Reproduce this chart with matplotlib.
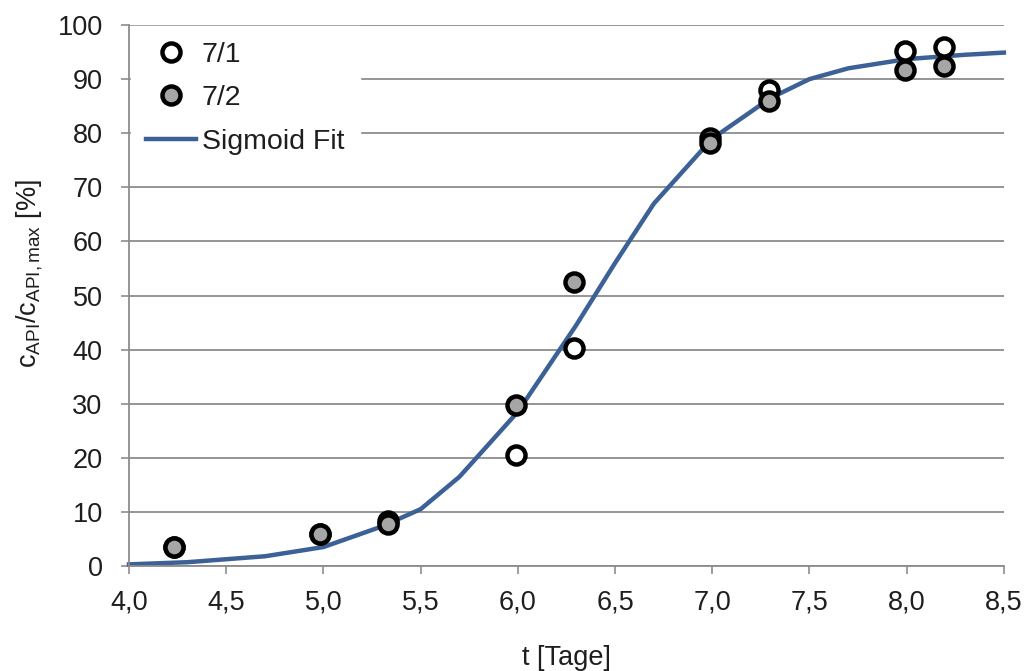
import matplotlib
matplotlib.use("Agg")
import matplotlib.pyplot as plt

# Measured series (days vs. normalised API concentration)
t_days = [4.23, 4.98, 5.33, 5.99, 6.29, 6.99, 7.29, 7.99, 8.19]
run_7_1 = [3.6, 6.0, 8.4, 20.5, 40.3, 79.1, 88.0, 95.2, 95.9]
run_7_2 = [3.6, 6.0, 7.8, 29.8, 52.5, 78.2, 86.0, 91.7, 92.4]

# Sigmoid fit curve
fit_t = [4.0, 4.3, 4.7, 5.0, 5.3, 5.5, 5.7, 6.0, 6.3, 6.5, 6.7, 7.0, 7.3, 7.5, 7.7, 8.0, 8.3, 8.5]
fit_c = [0.3, 0.7, 1.8, 3.5, 7.3, 10.5, 16.5, 28.5, 44.5, 56.0, 67.0, 79.0, 86.5, 90.0, 92.0, 93.7, 94.5, 94.9]

x_ticks = [4.0, 4.5, 5.0, 5.5, 6.0, 6.5, 7.0, 7.5, 8.0, 8.5]
x_tick_labels = ["4,0", "4,5", "5,0", "5,5", "6,0", "6,5", "7,0", "7,5", "8,0", "8,5"]
y_ticks = [0, 10, 20, 30, 40, 50, 60, 70, 80, 90, 100]

plt.rcParams["font.family"] = ["Liberation Sans", "DejaVu Sans"]
plt.rcParams["mathtext.fontset"] = "custom"
plt.rcParams["mathtext.rm"] = "Liberation Sans"
plt.rcParams["mathtext.it"] = "Liberation Sans"

FS = 19.5
text_col = "#1e1e1e"
grid_col = "#8c8c8c"

fig = plt.figure(figsize=(10.28, 6.71), dpi=100)
ax = fig.add_axes([0.1255, 0.1565, 0.851, 0.8062])

ax.set_xlim(4.0, 8.5)
ax.set_ylim(0, 100)
ax.set_yticks(y_ticks)
ax.set_xticks(x_ticks)
ax.set_xticklabels(x_tick_labels)
ax.yaxis.grid(True, color=grid_col, linewidth=1.3, zorder=0)
ax.set_axisbelow(True)

for side in ("top", "right"):
    ax.spines[side].set_visible(False)
for side in ("left", "bottom"):
    ax.spines[side].set_color(grid_col)
    ax.spines[side].set_linewidth(1.3)
    ax.spines[side].set_zorder(6)

ax.tick_params(axis="both", which="major", labelsize=FS, colors=text_col,
               length=6, width=1.2, color=grid_col)
ax.tick_params(axis="y", pad=13)
ax.tick_params(axis="x", pad=11)

ax.plot(fit_t, fit_c, color="#3b6196", linewidth=3.2, label="Sigmoid Fit", zorder=2,
        clip_on=False)
ax.plot(t_days, run_7_1, linestyle="none", marker="o", markersize=13,
        markerfacecolor="white", markeredgecolor="black", markeredgewidth=3.2,
        label="7/1", zorder=3)
ax.plot(t_days, run_7_2, linestyle="none", marker="o", markersize=13,
        markerfacecolor="#a6a6a6", markeredgecolor="black", markeredgewidth=3.2,
        label="7/2", zorder=4)

handles, labels = ax.get_legend_handles_labels()
order = [1, 2, 0]
leg = ax.legend([handles[i] for i in order], [labels[i] for i in order],
                loc="upper left", bbox_to_anchor=(0.002, 0.998), fontsize=20.5,
                frameon=True, fancybox=False, framealpha=1.0,
                facecolor="white", edgecolor="white", handlelength=1.75,
                handletextpad=0.2, labelspacing=0.62, borderpad=0.55,
                borderaxespad=0.0)
leg.set_zorder(5)
for txt in leg.get_texts():
    txt.set_color(text_col)

ax.set_xlabel("t [Tage]", fontsize=FS, color=text_col, labelpad=21)
ax.set_ylabel(r"c$_{\mathregular{API}}$/c$_{\mathregular{API,max}}$ [%]",
              fontsize=FS, color=text_col, labelpad=9)
ax.yaxis.label.set_y(0.54)

fig.savefig("out.png", dpi=100, facecolor="white")
